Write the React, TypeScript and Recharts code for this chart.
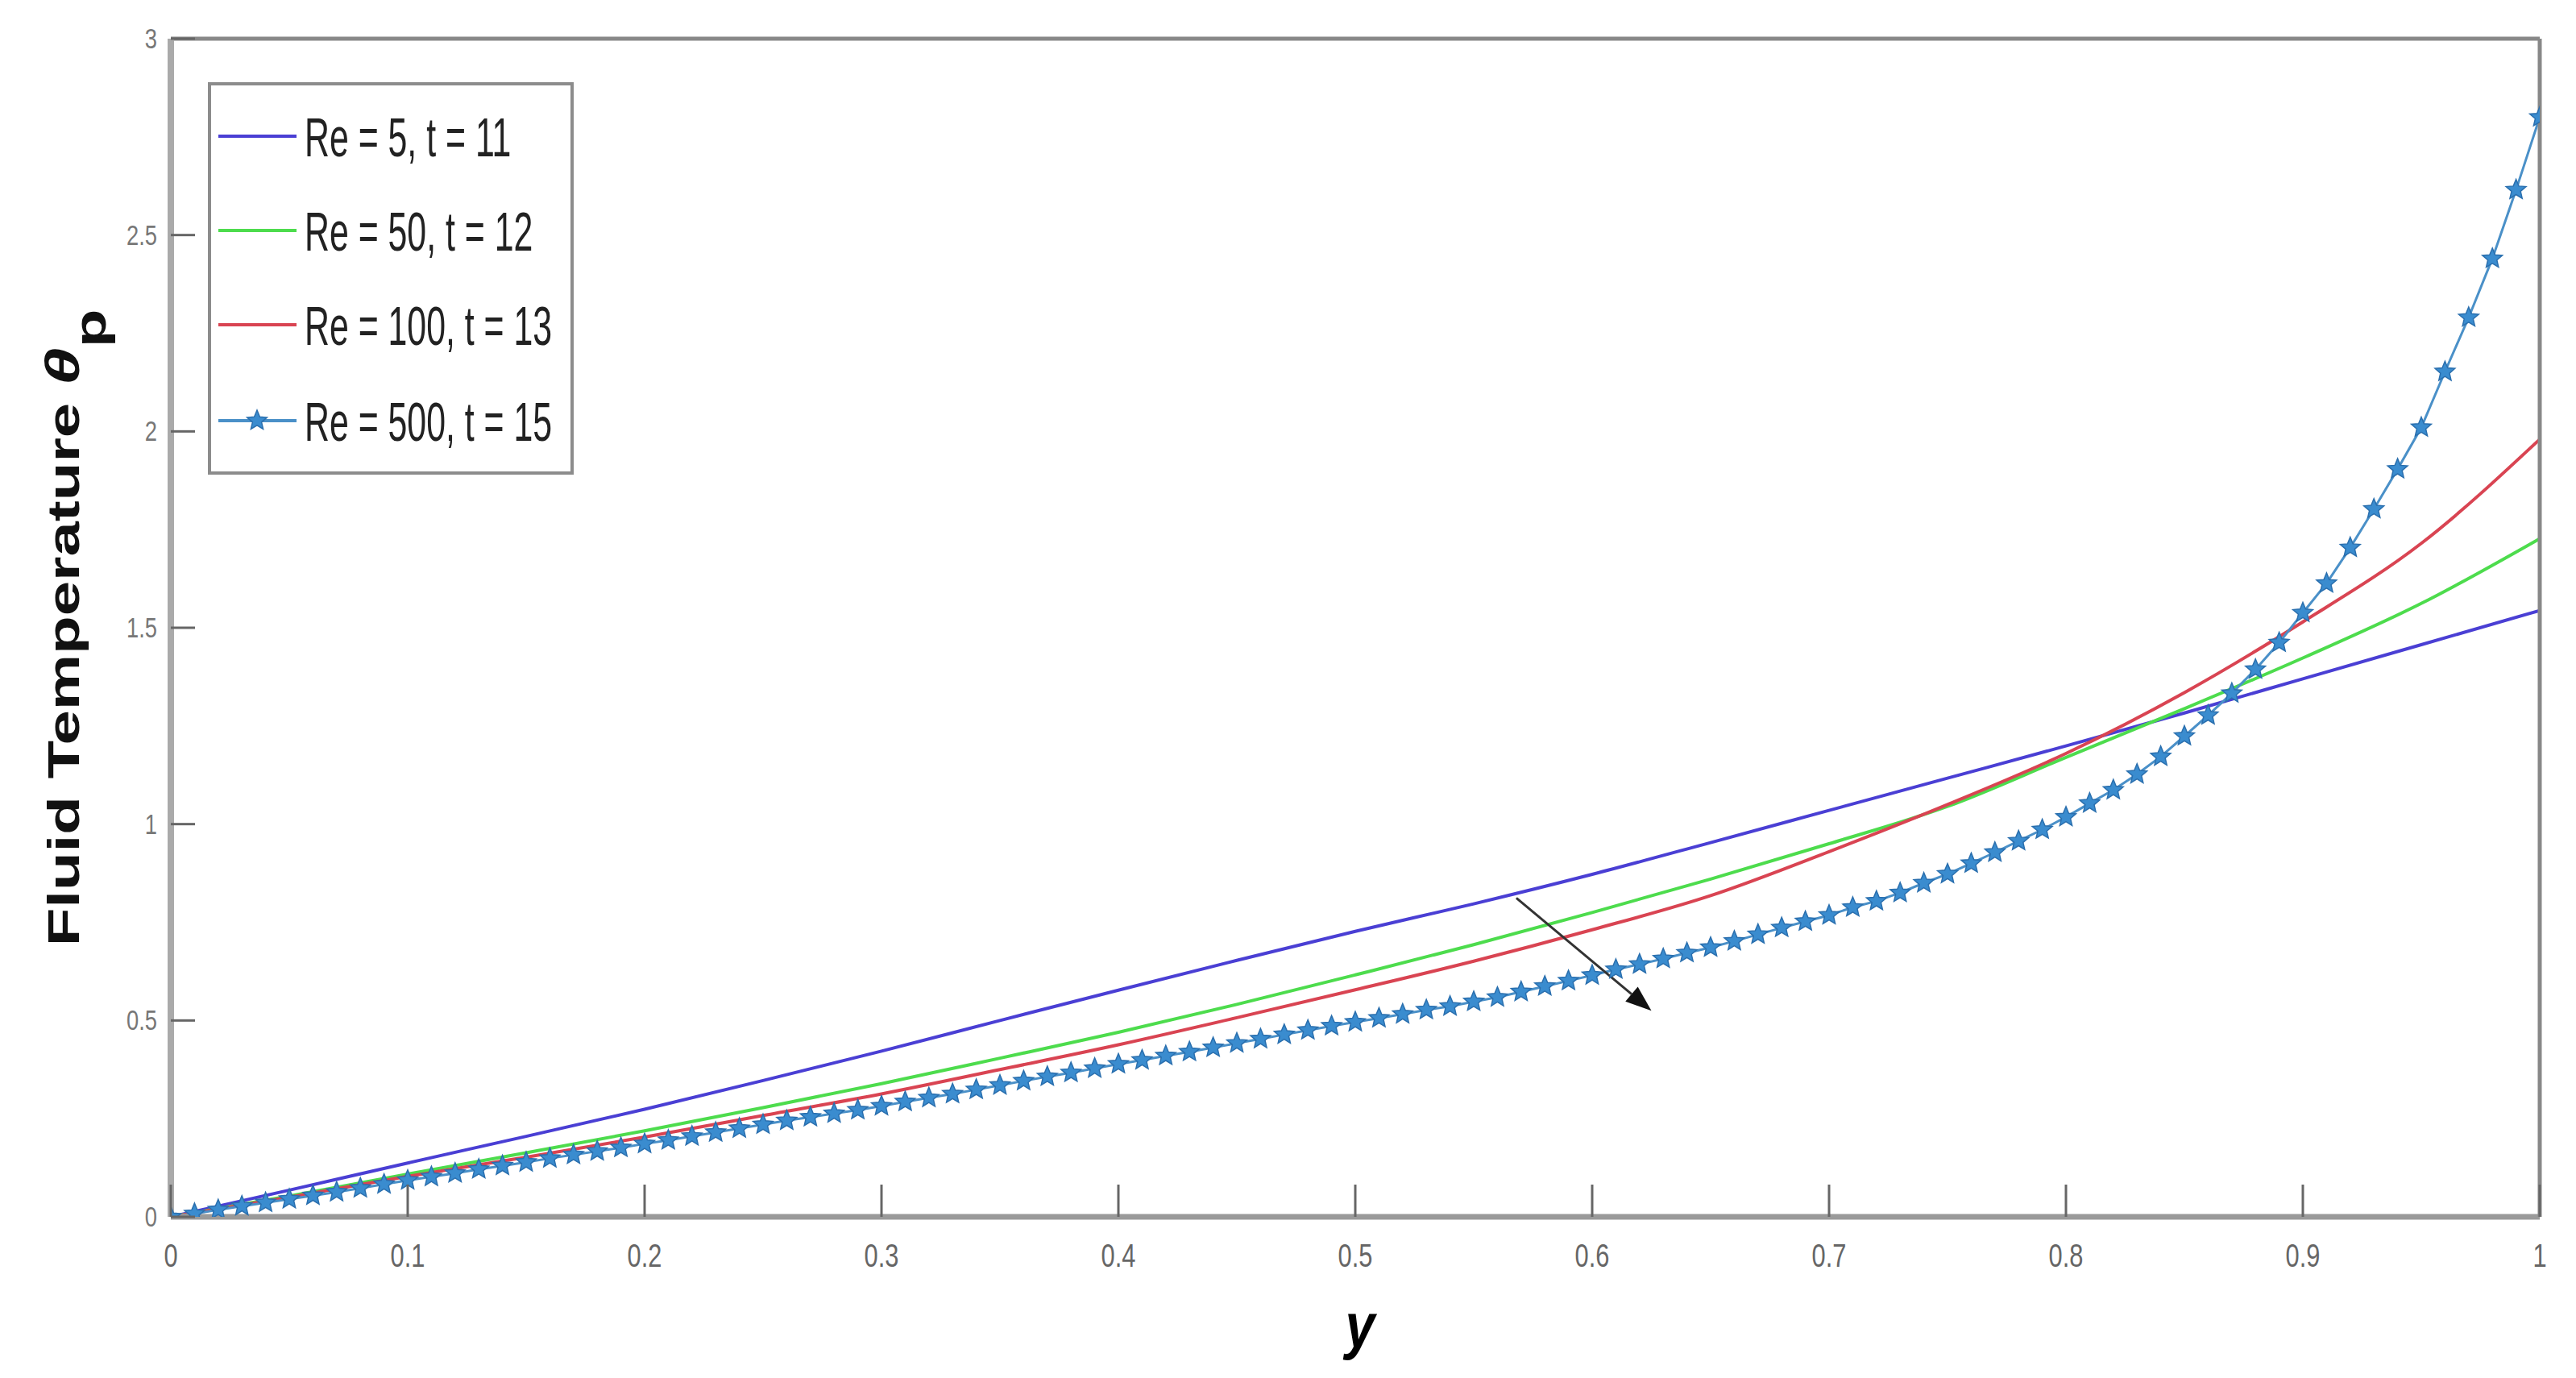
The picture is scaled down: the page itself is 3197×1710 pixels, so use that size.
import React from 'react';
import { LineChart, Line, XAxis, YAxis, Legend, Label, ReferenceLine } from 'recharts';

// --- data ---
const LINE_X = [0, 0.05, 0.1, 0.15, 0.2, 0.25, 0.3, 0.35, 0.4, 0.45, 0.5, 0.55, 0.6, 0.65, 0.7, 0.75, 0.8, 0.85, 0.9, 0.95, 1];
const RE5 = [0, 0.068, 0.137, 0.205, 0.274, 0.347, 0.422, 0.5, 0.577, 0.653, 0.727, 0.797, 0.872, 0.953, 1.035, 1.117, 1.199, 1.283, 1.37, 1.457, 1.544];
const RE50 = [0, 0.053, 0.109, 0.163, 0.219, 0.278, 0.339, 0.404, 0.47, 0.541, 0.616, 0.693, 0.775, 0.86, 0.95, 1.045, 1.17, 1.294, 1.423, 1.562, 1.727];
const RE100 = [0, 0.05, 0.103, 0.152, 0.203, 0.258, 0.313, 0.375, 0.438, 0.507, 0.578, 0.651, 0.731, 0.818, 0.93, 1.05, 1.18, 1.335, 1.515, 1.715, 1.98];

const STAR_X = [
  0, 0.01, 0.02, 0.03, 0.04, 0.05, 0.06, 0.07, 0.08, 0.09,
  0.1, 0.11, 0.12, 0.13, 0.14, 0.15, 0.16, 0.17, 0.18, 0.19,
  0.2, 0.21, 0.22, 0.23, 0.24, 0.25, 0.26, 0.27, 0.28, 0.29,
  0.3, 0.31, 0.32, 0.33, 0.34, 0.35, 0.36, 0.37, 0.38, 0.39,
  0.4, 0.41, 0.42, 0.43, 0.44, 0.45, 0.46, 0.47, 0.48, 0.49,
  0.5, 0.51, 0.52, 0.53, 0.54, 0.55, 0.56, 0.57, 0.58, 0.59,
  0.6, 0.61, 0.62, 0.63, 0.64, 0.65, 0.66, 0.67, 0.68, 0.69,
  0.7, 0.71, 0.72, 0.73, 0.74, 0.75, 0.76, 0.77, 0.78, 0.79,
  0.8, 0.81, 0.82, 0.83, 0.84, 0.85, 0.86, 0.87, 0.88, 0.89,
  0.9, 0.91, 0.92, 0.93, 0.94, 0.95, 0.96, 0.97, 0.98, 0.99, 1,
];
const RE500 = [
  0, 0.008, 0.018, 0.027, 0.036, 0.045, 0.054, 0.063, 0.073, 0.083,
  0.093, 0.102, 0.111, 0.121, 0.13, 0.139, 0.149, 0.158, 0.167, 0.176,
  0.186, 0.195, 0.205, 0.215, 0.225, 0.235, 0.245, 0.254, 0.263, 0.272,
  0.282, 0.293, 0.303, 0.313, 0.324, 0.335, 0.346, 0.357, 0.367, 0.378,
  0.389, 0.399, 0.41, 0.42, 0.431, 0.442, 0.453, 0.464, 0.475, 0.486,
  0.496, 0.506, 0.516, 0.527, 0.536, 0.548, 0.559, 0.573, 0.587, 0.601,
  0.615, 0.63, 0.643, 0.657, 0.672, 0.686, 0.702, 0.719, 0.736, 0.752,
  0.768, 0.788, 0.804, 0.825, 0.85, 0.873, 0.9, 0.928, 0.957, 0.986,
  1.018, 1.053, 1.087, 1.127, 1.172, 1.224, 1.277, 1.333, 1.394, 1.462,
  1.538, 1.613, 1.704, 1.802, 1.904, 2.01, 2.152, 2.29, 2.44, 2.615, 2.8,
];

const X_TICKS = [0, 0.1, 0.2, 0.3, 0.4, 0.5, 0.6, 0.7, 0.8, 0.9, 1];
const Y_TICKS = [0, 0.5, 1, 1.5, 2, 2.5, 3];
const SERIES_NAMES = ['Re = 5, t = 11', 'Re = 50, t = 12', 'Re = 100, t = 13', 'Re = 500, t = 15'];
const SERIES_COLORS = ['#4a3fd4', '#4ddc4d', '#d94452', '#4a90c8'];
// arrow annotation (data coords): tail, head
const ARROW = [{ x: 0.568, y: 0.812 }, { x: 0.625, y: 0.525 }];

const FONT = "'Liberation Sans', Arial, Helvetica, sans-serif";

const toPoints = (xs: number[], ys: number[]) => xs.map((x, i) => ({ x, v: ys[i] }));

// pentagram marker path
const starPath = (cx: number, cy: number, R: number) => {
  const pts: string[] = [];
  for (let i = 0; i < 10; i++) {
    const r = i % 2 === 0 ? R : R * 0.45;
    const a = -Math.PI / 2 + (i * Math.PI) / 5;
    pts.push(`${(cx + r * Math.cos(a)).toFixed(1)},${(cy + r * Math.sin(a)).toFixed(1)}`);
  }
  return 'M' + pts.join('L') + 'Z';
};

const fmt = (v: number) => String(v);

// --- ticks (MATLAB style: inward marks) ---
const BottomTick = (p: any) => (
  <g>
    <line x1={p.x} y1={p.y} x2={p.x} y2={p.y - 40} stroke="#666" strokeWidth={3} />
    <text transform={`translate(${p.x},${p.y + 62}) scale(0.77,1)`} textAnchor="middle" fontSize={40} fill="#666" fontFamily={FONT}>
      {fmt(p.payload.value)}
    </text>
  </g>
);
const LeftTick = (p: any) => (
  <g>
    <line x1={p.x} y1={p.y} x2={p.x + 30} y2={p.y} stroke="#666" strokeWidth={3} />
    <text transform={`translate(${p.x - 17},${p.y + 12}) scale(0.78,1)`} textAnchor="end" fontSize={35} fill="#777" fontFamily={FONT}>
      {fmt(p.payload.value)}
    </text>
  </g>
);
const TopTick = (p: any) => <line x1={p.x} y1={p.y} x2={p.x} y2={p.y + 40} stroke="#777" strokeWidth={4} />;
const RightTick = (p: any) => <line x1={p.x} y1={p.y} x2={p.x - 25} y2={p.y} stroke="#666" strokeWidth={3} />;

const StarDot = (p: any) => (
  <path key={`s-${p.index}`} d={starPath(p.cx, p.cy, 13)} fill="#3a8ccf" stroke="#2a6fae" strokeWidth={1.5} />
);

const Arrow = (p: any) => {
  const { x1, y1, x2, y2 } = p;
  const ang = Math.atan2(y2 - y1, x2 - x1);
  const len = 32, half = 12;
  const bx = x2 - len * Math.cos(ang), by = y2 - len * Math.sin(ang);
  const nx = -Math.sin(ang) * half, ny = Math.cos(ang) * half;
  return (
    <g>
      <line x1={x1} y1={y1} x2={bx} y2={by} stroke="#333" strokeWidth={3} />
      <polygon points={`${x2},${y2} ${bx + nx},${by + ny} ${bx - nx},${by - ny}`} fill="#111" />
    </g>
  );
};

const LEGEND_ROWS = [67, 184, 301, 420];
function LegendBox() {
  return (
    <svg width={454} height={487} style={{ display: 'block' }}>
      <rect x={2} y={2} width={450} height={483} fill="#fff" stroke="#8c8c8c" strokeWidth={4} />
      {SERIES_NAMES.map((name, i) => {
        const y = LEGEND_ROWS[i];
        return (
          <g key={name}>
            <line x1={13} x2={110} y1={y} y2={y} stroke={SERIES_COLORS[i]} strokeWidth={4} />
            {i === 3 && <path d={starPath(61, y, 13)} fill="#3a8ccf" stroke="#2a6fae" strokeWidth={1.5} />}
            <text transform={`translate(120,${y + 25}) scale(0.63,1)`} fontSize={68} fill="#222" fontFamily={FONT}>
              {name}
            </text>
          </g>
        );
      })}
    </svg>
  );
}

const YTitle = (p: any) => {
  const vb = p.viewBox;
  const cx = vb.x + vb.width - 114;
  const cy = vb.y + vb.height / 2;
  return (
    <text transform={`translate(${cx},${cy}) rotate(-90) scale(1,0.71)`} textAnchor="middle" fontSize={78} fontWeight="bold" fill="#111" fontFamily={FONT}>
      {'Fluid Temperature '}
      <tspan fontStyle="italic" fontSize={84}>θ</tspan>
      <tspan dy={46}>p</tspan>
    </text>
  );
};

const XTitle = (p: any) => {
  const vb = p.viewBox;
  const cx = vb.x + vb.width / 2 + 6;
  return (
    <text transform={`translate(${cx},${vb.y + 162}) scale(0.85,1)`} textAnchor="middle" fontSize={78} fontWeight="bold" fontStyle="italic" fill="#000" fontFamily={FONT}>
      y
    </text>
  );
};

export default function App() {
  const series = [toPoints(LINE_X, RE5), toPoints(LINE_X, RE50), toPoints(LINE_X, RE100)];
  const stars = toPoints(STAR_X, RE500);

  return (
    <div style={{ position: 'absolute', left: 0, top: 0, width: 3197, height: 1710, background: '#fff', fontFamily: FONT }}>
      <LineChart width={3197} height={1710} margin={{ top: 47, right: 44, left: 112, bottom: 100 }}>
        <XAxis
          dataKey="x" type="number" domain={[0, 1]} ticks={X_TICKS} height={100}
          tickSize={0} tickMargin={0} tickLine={false} tick={BottomTick}
          axisLine={{ stroke: '#9a9a9a', strokeWidth: 7 }} allowDataOverflow
        >
          <Label content={XTitle} />
        </XAxis>
        <XAxis
          xAxisId="top" orientation="top" dataKey="x" type="number" domain={[0, 1]} ticks={X_TICKS} height={1}
          tickSize={0} tickMargin={0} tickLine={false} tick={TopTick}
          axisLine={{ stroke: '#888', strokeWidth: 5 }}
        />
        <YAxis
          type="number" domain={[0, 3]} ticks={Y_TICKS} width={100}
          tickSize={0} tickMargin={0} tickLine={false} tick={LeftTick}
          axisLine={{ stroke: '#aaa', strokeWidth: 8 }} allowDataOverflow
        >
          <Label content={YTitle} />
        </YAxis>
        <YAxis
          yAxisId="right" orientation="right" type="number" domain={[0, 3]} ticks={Y_TICKS} width={1}
          tickSize={0} tickMargin={0} tickLine={false} tick={RightTick}
          axisLine={{ stroke: '#888', strokeWidth: 5 }}
        />
        <Legend
          layout="vertical" align="center" verticalAlign="middle"
          wrapperStyle={{ left: 258, top: 102, width: 454, height: 487 }}
          content={LegendBox}
        />
        {series.map((d, i) => (
          <Line
            key={SERIES_NAMES[i]} data={d} dataKey="v" name={SERIES_NAMES[i]} type="monotone"
            stroke={SERIES_COLORS[i]} strokeWidth={4} dot={false} activeDot={false} isAnimationActive={false}
          />
        ))}
        <Line
          data={stars} dataKey="v" name={SERIES_NAMES[3]} type="linear"
          stroke={SERIES_COLORS[3]} strokeWidth={3} dot={StarDot} activeDot={false} isAnimationActive={false}
        />
        <ReferenceLine segment={ARROW} shape={Arrow} />
      </LineChart>
    </div>
  );
}
